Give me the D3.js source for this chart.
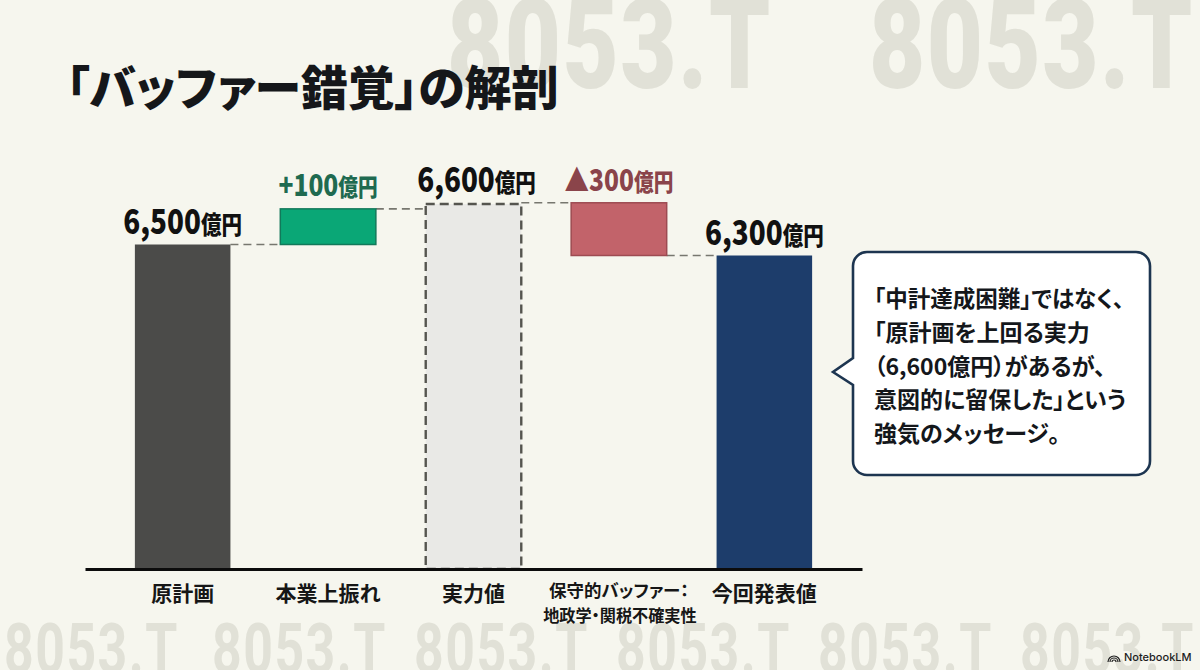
<!DOCTYPE html>
<html>
<head>
<meta charset="utf-8">
<script src="https://d3js.org/d3.v7.min.js"></script>
<style>
html, body { margin: 0; padding: 0; background: #f6f6ee; overflow: hidden; }
text { font-family: "Noto Sans CJK JP", "Noto Sans", sans-serif; }
</style>
</head>
<body>
<svg class="chart" width="1200" height="670"></svg>
<script>

// chart values
const categories = ["原計画", "本業上振れ", "実力値", "保守的バッファー：", "今回発表値"];
const category2nd = ["", "", "", "地政学・関税不確実性", ""];
const barLow = [0, 6500, 0, 6300, 0];
const barHigh = [6500, 6588, 6600, 6603, 6300];
const barFill = ["#4b4b49", "#0aa776", "#e9e9e6", "#c2636a", "#1d3d6b"];
const barStroke = ["none", "#12795a", "none", "#9d4b52", "none"];
const valueText = ["6,500", "+100", "6,600", "▲300", "6,300"];
const valueColor = ["#111111", "#1f6a50", "#111111", "#8a444a", "#111111"];
const connectors = [6500, 6588, 6603, 6300];
const noteLines = ["「中計達成困難」ではなく、", "「原計画を上回る実力", "（6,600億円）があるが、", "意図的に留保した」という", "強気のメッセージ。"];
const watermarkTop = [447, 869];
const watermarkBottom = [4, 212, 414, 616, 818, 1020];

const svg = d3.select(".chart");

svg.append("rect").attr("width", 1200).attr("height", 670).attr("fill", "#f6f6ee");

// ghost ticker in the background
function ghost(x, baseline, size, sx, weight) {
  svg.append("text")
    .attr("transform", `translate(${x},${baseline}) scale(${sx},1)`)
    .style("font-family", "Roboto")
    .attr("font-weight", weight)
    .attr("font-size", size)
    .attr("letter-spacing", 2)
    .attr("fill", "#e1e1d7")
    .text("8053.T");
}
watermarkTop.forEach(x => ghost(x, 88, 126, 0.77, 900));
watermarkBottom.forEach(x => ghost(x, 673, 70, 0.74, 700));

svg.append("text")
  .attr("x", 66).attr("y", 105)
  .attr("font-size", 47).attr("font-weight", 900)
  .attr("fill", "#15171a")
  .style("font-feature-settings", "'palt'")
  .text("「バッファー錯覚」の解剖");

// the drawn heights are not to scale in the top part, so the scale has stops
const y = d3.scaleLinear()
  .domain([0, 6300, 6500, 6600])
  .range([569, 255.5, 244.5, 204]);

const x = d3.scaleBand()
  .domain(categories)
  .range([85, 862])
  .padding(0.343);

const rows = categories.map((c, i) => ({
  name: c, low: barLow[i], high: barHigh[i], fill: barFill[i], stroke: barStroke[i],
  label: valueText[i], color: valueColor[i], second: category2nd[i]
}));

// connectors
svg.selectAll(".link")
  .data(connectors)
  .enter().append("line")
    .attr("class", "link")
    .attr("x1", (d, i) => x(categories[i]) + x.bandwidth())
    .attr("x2", (d, i) => x(categories[i + 1]))
    .attr("y1", d => y(d))
    .attr("y2", d => y(d))
    .attr("stroke", "#77776f")
    .attr("stroke-width", 1.6)
    .attr("stroke-dasharray", "8,5");

// bars
svg.selectAll(".bar")
  .data(rows)
  .enter().append("rect")
    .attr("class", "bar")
    .attr("x", d => x(d.name))
    .attr("width", x.bandwidth())
    .attr("y", d => y(d.high))
    .attr("height", d => y(d.low) - y(d.high))
    .attr("fill", d => d.fill)
    .attr("stroke", d => d.stroke)
    .attr("stroke-width", 1.5);

// dashed outline for 実力値
svg.append("rect")
  .attr("x", x(categories[2]))
  .attr("width", x.bandwidth())
  .attr("y", y(barHigh[2]))
  .attr("height", y(0) - y(barHigh[2]))
  .attr("fill", "none")
  .attr("stroke", "#55554f")
  .attr("stroke-width", 2.4)
  .attr("stroke-dasharray", "9,5");

// axis
const axis = svg.append("g")
  .attr("transform", "translate(0,569)")
  .call(d3.axisBottom(x).tickSize(0).tickPadding(17));
axis.select(".domain").attr("stroke", "#0c0c0c").attr("stroke-width", 3);
axis.selectAll(".tick text")
  .style("font-family", "'Noto Sans CJK JP'")
  .attr("font-size", 21)
  .attr("font-weight", 700)
  .attr("fill", "#161616")
  .style("font-feature-settings", "'palt'")
  .each(function(d, i) {
    if (rows[i].second) d3.select(this).attr("font-size", 17.5).attr("dy", "0.65em");
  });

svg.selectAll(".second")
  .data(rows.filter(d => d.second))
  .enter().append("text")
    .attr("class", "second")
    .attr("text-anchor", "middle")
    .attr("transform", d => `translate(${x(d.name) + x.bandwidth() / 2 + 1},622) scale(0.98,1)`)
    .attr("font-size", 16.5)
    .attr("font-weight", 700)
    .attr("fill", "#161616")
    .style("font-feature-settings", "'palt'")
    .text(d => d.second);

// value labels
const labelOffset = [11, 13, 12, 12, 11];
const labelShift = [0, 0, 3, 0, 0];
const valueLabels = svg.selectAll(".value")
  .data(rows)
  .enter().append("text")
    .attr("class", "value")
    .attr("text-anchor", "middle")
    .attr("transform", (d, i) => `translate(${x(d.name) + x.bandwidth() / 2 + labelShift[i]},${y(d.high) - labelOffset[i]}) scale(0.82,1)`)
    .attr("fill", d => d.color)
    .attr("font-weight", 900);
valueLabels.append("tspan")
  .attr("font-size", (d, i) => (i === 1 || i === 3) ? 30 : 34)
  .style("font-family", "'Noto Sans CJK JP'")
  .text(d => d.label);
valueLabels.append("tspan")
  .attr("font-size", (d, i) => (i === 1 || i === 3) ? 24 : 25)
  .text("億円");

// speech bubble
const bx = 853, by = 252, bw = 297, bh = 223, br = 14;
const bubble = d3.path();
bubble.moveTo(bx + br, by);
bubble.lineTo(bx + bw - br, by);
bubble.arcTo(bx + bw, by, bx + bw, by + br, br);
bubble.lineTo(bx + bw, by + bh - br);
bubble.arcTo(bx + bw, by + bh, bx + bw - br, by + bh, br);
bubble.lineTo(bx + br, by + bh);
bubble.arcTo(bx, by + bh, bx, by + bh - br, br);
bubble.lineTo(bx, 385);
bubble.lineTo(833, 372);
bubble.lineTo(bx, 358);
bubble.lineTo(bx, by + br);
bubble.arcTo(bx, by, bx + br, by, br);
bubble.closePath();
svg.append("path")
  .attr("d", bubble.toString())
  .attr("fill", "#ffffff")
  .attr("stroke", "#1d3550")
  .attr("stroke-width", 2.6);

const noteBase = [307, 341, 375, 408, 442];
const noteSize = [22.5, 23, 23, 23, 23];
svg.selectAll(".note")
  .data(noteLines)
  .enter().append("text")
    .attr("class", "note")
    .attr("x", 874)
    .attr("y", (d, i) => noteBase[i])
    .attr("font-size", (d, i) => noteSize[i])
    .attr("font-weight", 700)
    .attr("fill", "#14171b")
    .style("font-feature-settings", "'palt'")
    .text(d => d);

// NotebookLM badge
const badge = svg.append("g").attr("transform", "translate(1114,662)");
[2, 4, 6].forEach(r => {
  badge.append("path")
    .attr("d", d3.arc()({ innerRadius: r - 0.6, outerRadius: r + 0.6, startAngle: -Math.PI / 2, endAngle: Math.PI / 2 }))
    .attr("fill", "#222");
});
svg.append("text")
  .attr("x", 1124).attr("y", 661)
  .style("font-family", "Inter")
  .attr("font-size", 11)
  .attr("font-weight", 500)
  .attr("fill", "#1d1d1d")
  .text("NotebookLM");

</script>
</body>
</html>
